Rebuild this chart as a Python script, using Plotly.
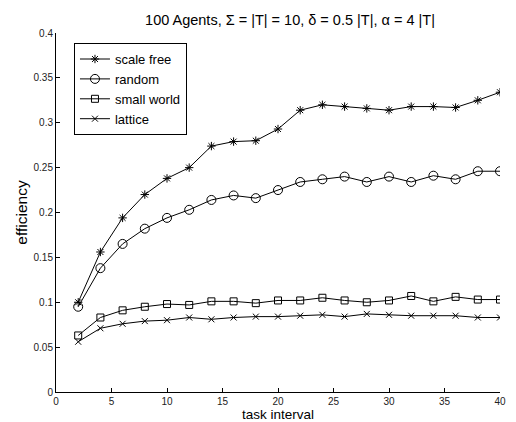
import plotly.graph_objects as go

task_interval = [2, 4, 6, 8, 10, 12, 14, 16, 18, 20, 22, 24, 26, 28, 30, 32, 34, 36, 38, 40]
scale_free = [0.100, 0.156, 0.194, 0.220, 0.238, 0.250, 0.274, 0.279, 0.280, 0.293, 0.314, 0.320, 0.318, 0.316, 0.314, 0.318, 0.318, 0.317, 0.325, 0.334]
random_net = [0.095, 0.138, 0.165, 0.182, 0.194, 0.203, 0.214, 0.219, 0.216, 0.225, 0.234, 0.237, 0.240, 0.234, 0.240, 0.234, 0.241, 0.237, 0.246, 0.246]
small_world = [0.063, 0.083, 0.091, 0.095, 0.098, 0.097, 0.101, 0.101, 0.099, 0.102, 0.102, 0.105, 0.102, 0.100, 0.102, 0.107, 0.101, 0.106, 0.103, 0.103]
lattice = [0.056, 0.071, 0.076, 0.079, 0.080, 0.083, 0.081, 0.083, 0.084, 0.084, 0.085, 0.086, 0.084, 0.087, 0.086, 0.085, 0.085, 0.085, 0.083, 0.083]

series = [
    ("scale free", scale_free, "asterisk-open", 7),
    ("random", random_net, "circle-open", 9),
    ("small world", small_world, "square-open", 7),
    ("lattice", lattice, "x-thin-open", 6),
]

FONT = "Liberation Sans, Arial, sans-serif"

fig = go.Figure()
for name, vals, sym, sz in series:
    fig.add_trace(go.Scatter(
        x=task_interval, y=vals, name=name, mode="lines+markers",
        line=dict(color="black", width=1),
        marker=dict(symbol=sym, size=sz, color="black", line=dict(color="black", width=1)),
    ))

axis_common = dict(
    showline=True, linecolor="black", linewidth=1, ticks="inside", ticklen=4,
    tickcolor="black", showgrid=False, zeroline=False, mirror=False, automargin=True,
    tickfont=dict(family=FONT, size=10, color="#222"),
)

fig.update_layout(
    width=516, height=422,
    paper_bgcolor="white", plot_bgcolor="white",
    margin=dict(l=56, r=16, t=33, b=30, pad=0, autoexpand=False),
    font=dict(family=FONT, color="black"),
    title=dict(text="100 Agents, Σ = |T| = 10, δ = 0.5 |T|, α = 4 |T|",
               x=0.562, xanchor="center", xref="container", y=0.953, yanchor="middle",
               font=dict(size=14.5, color="black")),
    xaxis=dict(range=[0, 40], dtick=5, tick0=0,
               title=dict(text="task interval", font=dict(size=13.5), standoff=10),
               **axis_common),
    yaxis=dict(range=[0, 0.4], dtick=0.05, tick0=0,
               title=dict(text="efficiency", font=dict(size=15.5), standoff=2),
               **axis_common),
    legend=dict(x=0.0405, y=0.972, xanchor="left", yanchor="top",
                bordercolor="black", borderwidth=1, bgcolor="white",
                font=dict(size=13), tracegroupgap=0, itemwidth=30),
    showlegend=True,
)

fig.write_html("out.html", config={"displayModeBar": False},
               post_script="document.body.style.margin='0';document.body.style.padding='0';")
